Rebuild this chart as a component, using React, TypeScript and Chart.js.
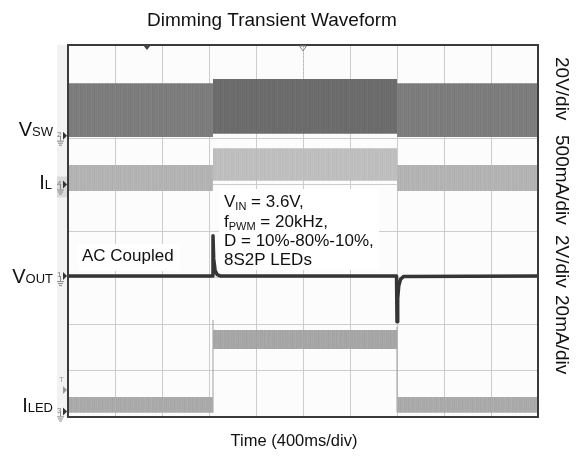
import React, { useEffect, useRef } from "react";
import { Chart, registerables } from "chart.js";

Chart.register(...registerables);

const FONT = "'Liberation Sans', Arial, sans-serif";
const TITLE = "Dimming Transient Waveform";
const X_TITLE = "Time (400ms/div)";
const SCALE_LABELS = ["20V/div", "500mA/div", "2V/div", "20mA/div"];
const X_MAX_MS = 4000;
const X_STEP_MS = 400;
const Y_DIVS = 4;

// PWM dimming segment edges (ms): 10% -> 80% -> 10%
const SEG_EDGES = [0, 1234, 2800, 4000];

// Band envelopes per segment (divisions from screen centre)
const VSW_TOP = [3.18, 3.27, 3.18];
const VSW_BOTTOM = [2.02, 2.09, 2.02];
const VSW_LOW_TOP = [2.24, 2.09, 2.24];
const IL_TOP = [1.42, 1.78, 1.42];
const IL_BOTTOM = [0.86, 1.08, 0.86];
const ILED_TOP = [-3.57, -2.13, -3.57];
const ILED_BOTTOM = [-3.91, -2.54, -3.91];

// V_OUT (AC coupled) trace
const VOUT_T = [0, 1230, 1234, 1240, 1252, 1270, 1300, 2796, 2800, 2806, 2815, 2830, 2855, 4000];
const VOUT_V = [-0.97, -0.97, -0.1, -0.6, -0.85, -0.94, -0.97, -0.97, -1.95, -1.45, -1.18, -1.04, -0.98, -0.97];

// I_LED transition edges
const ILED_EDGE_T = [1234, 2800];
const ILED_EDGE_LOW = [-3.91, -3.9];
const ILED_EDGE_HIGH = [-1.91, -2.06];

// layout / style constants (not data)
const SCALE_LABEL_Y = [57, 135, 235, 295];
const STRIPES = [0, 9, -5, 4, -11, 6, -2, 12, -8, 2, -4, 8, -9, 3, 10, -6, 1, -3];

function makePattern(base: number, amp: number) {
  const c = document.createElement("canvas");
  c.width = STRIPES.length;
  c.height = 1;
  const g = c.getContext("2d")!;
  STRIPES.forEach((s, i) => {
    const v = Math.max(0, Math.min(255, Math.round(base + (s * amp) / 12)));
    g.fillStyle = `rgb(${v},${v},${v})`;
    g.fillRect(i, 0, 1, 1);
  });
  return g.createPattern(c, "repeat")!;
}

function bandDatasets(label: string, top: number[], bottom: number[], colors: any[]) {
  const out: any[] = [];
  for (let i = 0; i < top.length; i++) {
    const x0 = SEG_EDGES[i];
    const x1 = SEG_EDGES[i + 1];
    out.push({
      label: label + " low",
      data: [{ x: x0, y: bottom[i] }, { x: x1, y: bottom[i] }],
      borderColor: "transparent",
      borderWidth: 0,
      pointRadius: 0,
      fill: false,
    });
    out.push({
      label,
      data: [{ x: x0, y: top[i] }, { x: x1, y: top[i] }],
      borderColor: "transparent",
      borderWidth: 0,
      pointRadius: 0,
      fill: "-1",
      backgroundColor: colors[i],
    });
  }
  return out;
}

type Part = { t: string; size: number; dy?: number };

function drawParts(ctx: CanvasRenderingContext2D, parts: Part[], x: number, y: number, align: "left" | "right", color = "#111") {
  ctx.fillStyle = color;
  ctx.textBaseline = "alphabetic";
  ctx.textAlign = "left";
  let total = 0;
  for (const p of parts) {
    ctx.font = `${p.size}px ${FONT}`;
    total += ctx.measureText(p.t).width;
  }
  let cx = align === "right" ? x - total : x;
  for (const p of parts) {
    ctx.font = `${p.size}px ${FONT}`;
    ctx.fillText(p.t, cx, y + (p.dy || 0));
    cx += ctx.measureText(p.t).width;
  }
}

function groundMarker(ctx: CanvasRenderingContext2D, x: number, y: number, ch: string, boxed = false) {
  ctx.save();
  if (boxed) {
    ctx.fillStyle = "#d9d9d9";
    ctx.fillRect(x - 10, y - 8, 10, 21);
  }
  ctx.fillStyle = "#777";
  ctx.font = `8px ${FONT}`;
  ctx.textAlign = "left";
  ctx.textBaseline = "middle";
  ctx.fillText(ch, x - 10, y - 1);
  ctx.fillStyle = "#333";
  ctx.beginPath();
  ctx.moveTo(x - 4, y - 4);
  ctx.lineTo(x, y);
  ctx.lineTo(x - 4, y + 4);
  ctx.closePath();
  ctx.fill();
  ctx.strokeStyle = "#888";
  ctx.lineWidth = 1;
  ctx.beginPath();
  ctx.moveTo(x - 6.5, y);
  ctx.lineTo(x - 6.5, y + 5);
  ctx.moveTo(x - 10, y + 5.5);
  ctx.lineTo(x - 3, y + 5.5);
  ctx.moveTo(x - 9, y + 7.5);
  ctx.lineTo(x - 4, y + 7.5);
  ctx.moveTo(x - 8, y + 9.5);
  ctx.lineTo(x - 5, y + 9.5);
  ctx.stroke();
  ctx.restore();
}

const scopePlugin = {
  id: "scopeOverlay",
  beforeDraw(chart: any) {
    const { ctx, chartArea: a } = chart;
    ctx.save();
    ctx.fillStyle = "#ffffff";
    ctx.fillRect(0, 0, chart.width, chart.height);
    ctx.fillStyle = "#f2f2f2";
    ctx.fillRect(a.left - 11, a.top, 11, a.bottom - a.top);
    ctx.fillStyle = "#fcfcfc";
    ctx.fillRect(a.left, a.top, a.right - a.left, a.bottom - a.top);
    ctx.restore();
  },
  afterDatasetsDraw(chart: any) {
    const { ctx, chartArea: a, scales } = chart;
    const xs = scales.x;
    const ys = scales.y;
    ctx.save();

    // annotation boxes
    ctx.fillStyle = "#ffffff";
    ctx.fillRect(a.left + 10, 244, 102, 27);
    ctx.fillRect(xs.getPixelForValue(SEG_EDGES[1]) + 6, 189, 160, 81);

    ctx.textAlign = "left";
    drawParts(ctx, [{ t: "AC Coupled", size: 17 }], a.left + 14, 261, "left");
    const tx = xs.getPixelForValue(SEG_EDGES[1]) + 11;
    drawParts(ctx, [{ t: "V", size: 17 }, { t: "IN", size: 11, dy: 3 }, { t: " = 3.6V,", size: 17 }], tx, 207, "left");
    drawParts(ctx, [{ t: "f", size: 17 }, { t: "PWM", size: 11, dy: 3 }, { t: " = 20kHz,", size: 17 }], tx, 227, "left");
    drawParts(ctx, [{ t: "D = 10%-80%-10%,", size: 17 }], tx, 246, "left");
    drawParts(ctx, [{ t: "8S2P LEDs", size: 17 }], tx, 265, "left");

    // frame
    ctx.strokeStyle = "#3a3a3a";
    ctx.lineWidth = 2;
    ctx.strokeRect(a.left, a.top, a.right - a.left, a.bottom - a.top);

    // top markers
    const trigX = xs.getPixelForValue(X_STEP_MS * 1.68);
    ctx.fillStyle = "#444";
    ctx.beginPath();
    ctx.moveTo(trigX - 4, a.top);
    ctx.lineTo(trigX + 4, a.top);
    ctx.lineTo(trigX, a.top + 5);
    ctx.closePath();
    ctx.fill();
    const cx = (a.left + a.right) / 2;
    ctx.strokeStyle = "#888";
    ctx.lineWidth = 1;
    ctx.beginPath();
    ctx.moveTo(cx - 3.5, a.top + 1);
    ctx.lineTo(cx + 3.5, a.top + 1);
    ctx.lineTo(cx, a.top + 6);
    ctx.closePath();
    ctx.stroke();
    ctx.setLineDash([2, 2]);
    ctx.strokeStyle = "#bbb";
    ctx.beginPath();
    ctx.moveTo(cx + 0.5, a.top + 7);
    ctx.lineTo(cx + 0.5, a.top + 32);
    ctx.stroke();
    ctx.setLineDash([]);

    // ground markers
    groundMarker(ctx, a.left - 1, ys.getPixelForValue(2.05), "2");
    groundMarker(ctx, a.left - 1, ys.getPixelForValue(1.0), "4", true);
    groundMarker(ctx, a.left - 1, ys.getPixelForValue(-0.97), "1");
    groundMarker(ctx, a.left - 1, ys.getPixelForValue(-3.88), "3");
    // trigger level marker
    ctx.fillStyle = "#999";
    ctx.font = `8px ${FONT}`;
    ctx.fillText("T", a.left - 9, 382);
    ctx.beginPath();
    ctx.moveTo(a.left - 5, 386);
    ctx.lineTo(a.left - 1, 390);
    ctx.lineTo(a.left - 5, 394);
    ctx.closePath();
    ctx.fill();

    // channel labels
    drawParts(ctx, [{ t: "V", size: 20 }, { t: "SW", size: 13 }], 53, 136, "right");
    drawParts(ctx, [{ t: "I", size: 20 }, { t: "L", size: 13 }], 52, 189, "right");
    drawParts(ctx, [{ t: "V", size: 20 }, { t: "OUT", size: 13 }], 53, 283, "right");
    drawParts(ctx, [{ t: "I", size: 20 }, { t: "LED", size: 13 }], 53, 412, "right");

    // title & axis title
    ctx.fillStyle = "#111";
    ctx.textAlign = "center";
    ctx.font = `19px ${FONT}`;
    ctx.fillText(TITLE, 272, 26);
    ctx.font = `16.5px ${FONT}`;
    ctx.fillText(X_TITLE, 294, 446);

    // per-division labels on the right, rotated
    ctx.font = `19px ${FONT}`;
    ctx.textAlign = "left";
    ctx.textBaseline = "middle";
    SCALE_LABELS.forEach((s, i) => {
      ctx.save();
      ctx.translate(561, SCALE_LABEL_Y[i]);
      ctx.rotate(Math.PI / 2);
      ctx.fillText(s, 0, 0);
      ctx.restore();
    });
    ctx.restore();
  },
};

export default function App() {
  const ref = useRef<HTMLCanvasElement | null>(null);
  useEffect(() => {
    if (!ref.current) return;
    const vswColors = [makePattern(0x7c, 6), makePattern(0x6c, 4), makePattern(0x7c, 6)];
    const vswLowColors = [makePattern(0x55, 4), "#6c6c6c", makePattern(0x55, 4)];
    const ilColors = [makePattern(0xb3, 5), makePattern(0xbe, 5), makePattern(0xb3, 5)];
    const iledColors = [makePattern(0xaa, 5), makePattern(0xa6, 5), makePattern(0xaa, 5)];
    const datasets: any[] = [
      ...bandDatasets("VSW", VSW_TOP, VSW_BOTTOM, vswColors),
      ...bandDatasets("VSW low", VSW_LOW_TOP, VSW_BOTTOM, vswLowColors),
      ...bandDatasets("IL", IL_TOP, IL_BOTTOM, ilColors),
      ...bandDatasets("ILED", ILED_TOP, ILED_BOTTOM, iledColors),
      {
        label: "ILED edges",
        data: [
          { x: ILED_EDGE_T[0], y: ILED_EDGE_LOW[0] },
          { x: ILED_EDGE_T[0], y: ILED_EDGE_HIGH[0] },
        ],
        borderColor: "#a0a0a0",
        borderWidth: 1,
        pointRadius: 0,
        fill: false,
      },
      {
        label: "ILED edges 2",
        data: [
          { x: ILED_EDGE_T[1], y: ILED_EDGE_LOW[1] },
          { x: ILED_EDGE_T[1], y: ILED_EDGE_HIGH[1] },
        ],
        borderColor: "#a0a0a0",
        borderWidth: 1,
        pointRadius: 0,
        fill: false,
      },
      {
        label: "VOUT",
        data: VOUT_T.map((t, i) => ({ x: t, y: VOUT_V[i] })),
        borderColor: "#353535",
        borderWidth: 3.5,
        borderJoinStyle: "round",
        pointRadius: 0,
        fill: false,
        tension: 0,
      },
    ];
    const chart = new Chart(ref.current, {
      type: "line",
      data: { datasets },
      plugins: [scopePlugin],
      options: {
        responsive: false,
        animation: false,
        devicePixelRatio: 1,
        layout: { padding: { left: 68, right: 42, top: 45, bottom: 47 } },
        plugins: { legend: { display: false }, tooltip: { enabled: false }, title: { display: false } },
        scales: {
          x: {
            type: "linear",
            min: 0,
            max: X_MAX_MS,
            ticks: { display: false, stepSize: X_STEP_MS },
            grid: { color: "#cccccc", lineWidth: 1, drawTicks: false },
            border: { display: false },
          },
          y: {
            type: "linear",
            min: -Y_DIVS,
            max: Y_DIVS,
            ticks: { display: false, stepSize: 1 },
            grid: { color: "#cccccc", lineWidth: 1, drawTicks: false },
            border: { display: false },
          },
        },
      },
    });
    return () => chart.destroy();
  }, []);
  return (
    <div style={{ position: "fixed", left: 0, top: 0, width: 580, height: 464, background: "#fff" }}>
      <canvas ref={ref} width={580} height={464} style={{ display: "block" }} />
    </div>
  );
}
